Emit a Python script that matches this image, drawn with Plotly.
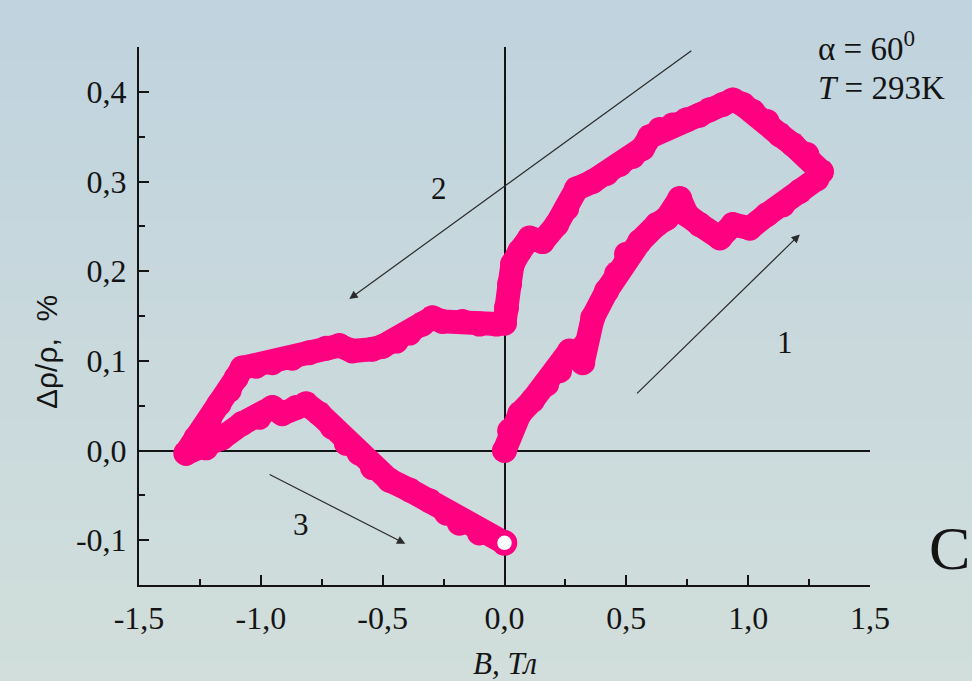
import plotly.graph_objects as go

# ---------------- data ----------------
# Branch 1: B increasing 0 -> +1.3 T
b1_B = [0.000, 0.021, 0.062, 0.115, 0.173, 0.226, 0.267, 0.321, 0.329, 0.362, 0.419,
        0.460, 0.501, 0.555, 0.625, 0.666, 0.719, 0.748, 0.801, 0.884, 0.937, 1.007,
        1.077, 1.142, 1.212, 1.282, 1.300]
b1_R = [0.000, 0.022, 0.041, 0.056, 0.074, 0.089, 0.111, 0.098, 0.117, 0.148, 0.178,
        0.197, 0.219, 0.233, 0.252, 0.259, 0.281, 0.263, 0.252, 0.237, 0.252, 0.248,
        0.263, 0.274, 0.289, 0.303, 0.311]

# Branch 2: B decreasing +1.3 -> -1.3 T
b2_B = [1.300, 1.241, 1.184, 1.130, 1.077, 1.019, 0.978, 0.937, 0.896, 0.842, 0.801,
        0.748, 0.690, 0.637, 0.596, 0.567, 0.526, 0.473, 0.419, 0.362, 0.296, 0.255,
        0.214, 0.156, 0.103, 0.062, 0.033, 0.021, 0.008, 0.000, -0.033, -0.103,
        -0.173, -0.255, -0.296, -0.337, -0.390, -0.444, -0.501, -0.542, -0.625,
        -0.678, -0.732, -0.801, -0.871, -0.953, -1.019, -1.077, -1.101, -1.130,
        -1.171, -1.212, -1.266, -1.307]
b2_R = [0.311, 0.330, 0.341, 0.352, 0.367, 0.378, 0.386, 0.391, 0.386, 0.380, 0.374,
        0.369, 0.363, 0.358, 0.350, 0.337, 0.328, 0.319, 0.309, 0.300, 0.292, 0.270,
        0.252, 0.233, 0.237, 0.222, 0.208, 0.186, 0.159, 0.142, 0.141, 0.141,
        0.144, 0.144, 0.148, 0.141, 0.131, 0.122, 0.116, 0.113, 0.111,
        0.117, 0.114, 0.109, 0.103, 0.098, 0.094, 0.092, 0.081, 0.067,
        0.052, 0.033, 0.014, -0.003]

# Branch 3: B increasing -1.3 -> 0 T
b3_B = [-1.307, -1.225, -1.159, -1.077, -1.007, -0.953, -0.912, -0.855, -0.814,
        -0.760, -0.707, -0.649, -0.596, -0.542, -0.473, -0.390, -0.308, -0.238,
        -0.185, -0.103, 0.000]
b3_R = [-0.003, 0.003, 0.014, 0.030, 0.037, 0.048, 0.041, 0.048, 0.052,
        0.041, 0.026, 0.008, -0.003, -0.019, -0.033, -0.044, -0.056, -0.070,
        -0.081, -0.092, -0.103]

x_tick_vals = [-1.5, -1.0, -0.5, 0.0, 0.5, 1.0, 1.5]
x_tick_text = ["-1,5", "-1,0", "-0,5", "0,0", "0,5", "1,0", "1,5"]
x_minor_vals = [-1.25, -0.75, -0.25, 0.25, 0.75, 1.25]
y_tick_vals = [-0.1, 0.0, 0.1, 0.2, 0.3, 0.4]
y_tick_text = ["-0,1", "0,0", "0,1", "0,2", "0,3", "0,4"]
y_minor_vals = [-0.15, -0.05, 0.05, 0.15, 0.25, 0.35, 0.45]

PINK = "#ff0080"
INK = "#141414"
SERIF = "'Liberation Serif', 'Times New Roman', Times, 'DejaVu Serif', serif"
SANS = "'Liberation Sans', Arial, sans-serif"

W, H = 972, 681
ML, MR, MT, MB = 139, 102, 47, 96
PW, PH = W - ML - MR, H - MT - MB


def px_to_paper_y(py):
    return (H - MB - py) / PH


def px_to_paper_x(px):
    return (px - ML) / PW


fig = go.Figure()

for bx, by in [(b1_B, b1_R), (b2_B, b2_R), (b3_B, b3_R)]:
    fig.add_trace(go.Scatter(
        x=bx, y=by, mode="lines+markers",
        line=dict(color=PINK, width=24),
        marker=dict(size=25, color=PINK, line=dict(width=0)),
        showlegend=False, hoverinfo="skip"))

# last measured point: open circle
fig.add_trace(go.Scatter(
    x=[b3_B[-1]], y=[b3_R[-1]], mode="markers",
    marker=dict(size=20, color="white", line=dict(color=PINK, width=5.5)),
    showlegend=False, hoverinfo="skip"))

# background vertical gradient built from thin bands
top = (192, 211, 222)
bot = (209, 222, 219)
N = 68
shapes = []
for i in range(N):
    t = i / (N - 1)
    c = tuple(round(top[k] + (bot[k] - top[k]) * t) for k in range(3))
    y0 = H * i / N
    y1 = H * (i + 1) / N + 1
    shapes.append(dict(type="rect", xref="paper", yref="paper", layer="below",
                       x0=px_to_paper_x(-5), x1=px_to_paper_x(W + 5),
                       y0=px_to_paper_y(y1), y1=px_to_paper_y(y0),
                       fillcolor="rgb(%d,%d,%d)" % c, line=dict(width=0)))

arrow_style = dict(showarrow=True, arrowhead=2, arrowsize=1.4, arrowwidth=1.2,
                   arrowcolor="#2a2a2a", text="", xref="x", yref="y", axref="x", ayref="y")
annotations = [
    # arrows
    dict(x=1.212, y=0.241, ax=0.538, ay=0.062, **arrow_style),
    dict(x=-0.637, y=0.169, ax=0.773, ay=0.447, **arrow_style),
    dict(x=-0.407, y=-0.104, ax=-0.970, ay=-0.026, **arrow_style),
    # branch labels
    dict(x=1.151, y=0.120, xref="x", yref="y", text="1", showarrow=False,
         font=dict(family=SERIF, size=31, color=INK)),
    dict(x=-0.267, y=0.292, xref="x", yref="y", text="2", showarrow=False,
         font=dict(family=SERIF, size=31, color=INK)),
    dict(x=-0.834, y=-0.083, xref="x", yref="y", text="3", showarrow=False,
         font=dict(family=SERIF, size=31, color=INK)),
    # conditions
    dict(x=px_to_paper_x(816), y=px_to_paper_y(46), xref="paper", yref="paper",
         xanchor="left", yanchor="middle", showarrow=False,
         text="α = 60<sup>0</sup>", font=dict(family=SERIF, size=33, color=INK)),
    dict(x=px_to_paper_x(816), y=px_to_paper_y(88), xref="paper", yref="paper",
         xanchor="left", yanchor="middle", showarrow=False,
         text="<i>T</i> = 293K", font=dict(family=SERIF, size=33, color=INK)),
    # panel letter
    dict(x=px_to_paper_x(927), y=px_to_paper_y(548), xref="paper", yref="paper",
         xanchor="left", yanchor="middle", showarrow=False,
         text="C", font=dict(family=SERIF, size=62, color=INK)),
    # axis titles
    dict(x=0.5, y=px_to_paper_y(663), xref="paper", yref="paper",
         xanchor="center", yanchor="middle", showarrow=False,
         text="<i>B, Тл</i>", font=dict(family=SERIF, size=31, color=INK)),
    dict(x=px_to_paper_x(46), y=px_to_paper_y(352), xref="paper", yref="paper",
         xanchor="center", yanchor="middle", showarrow=False, textangle=-90,
         text="Δρ/ρ,  %", font=dict(family=SANS, size=30, color=INK)),
]

axis_common = dict(
    showgrid=False, zeroline=True, zerolinecolor=INK, zerolinewidth=1.6,
    showline=True, linecolor=INK, linewidth=2,
    ticks="inside", ticklen=10, tickwidth=2, tickcolor=INK,
    tickfont=dict(family=SERIF, size=32, color=INK),
)

fig.update_layout(
    width=W, height=H,
    margin=dict(l=ML, r=MR, t=MT, b=MB),
    paper_bgcolor="rgb(200,216,221)",
    plot_bgcolor="rgba(0,0,0,0)",
    shapes=shapes,
    annotations=annotations,
    xaxis=dict(range=[-1.5, 1.5], tickvals=x_tick_vals, ticktext=x_tick_text,
               minor=dict(tickvals=x_minor_vals, ticks="inside", ticklen=6, tickwidth=2, tickcolor=INK),
               ticklabelstandoff=4, **axis_common),
    yaxis=dict(range=[-0.15, 0.45], tickvals=y_tick_vals, ticktext=y_tick_text,
               minor=dict(tickvals=y_minor_vals, ticks="inside", ticklen=6, tickwidth=2, tickcolor=INK),
               ticklabelstandoff=4, **axis_common),
)

fig.write_html(
    "out.html",
    config={"displayModeBar": False},
    post_script="document.body.style.margin='0';document.body.style.padding='0';"
                "document.body.style.overflow='hidden';"
                "document.querySelectorAll('.scatterlayer path.js-line').forEach("
                "function(p){p.style.strokeLinejoin='round';p.style.strokeLinecap='round';});",
)
